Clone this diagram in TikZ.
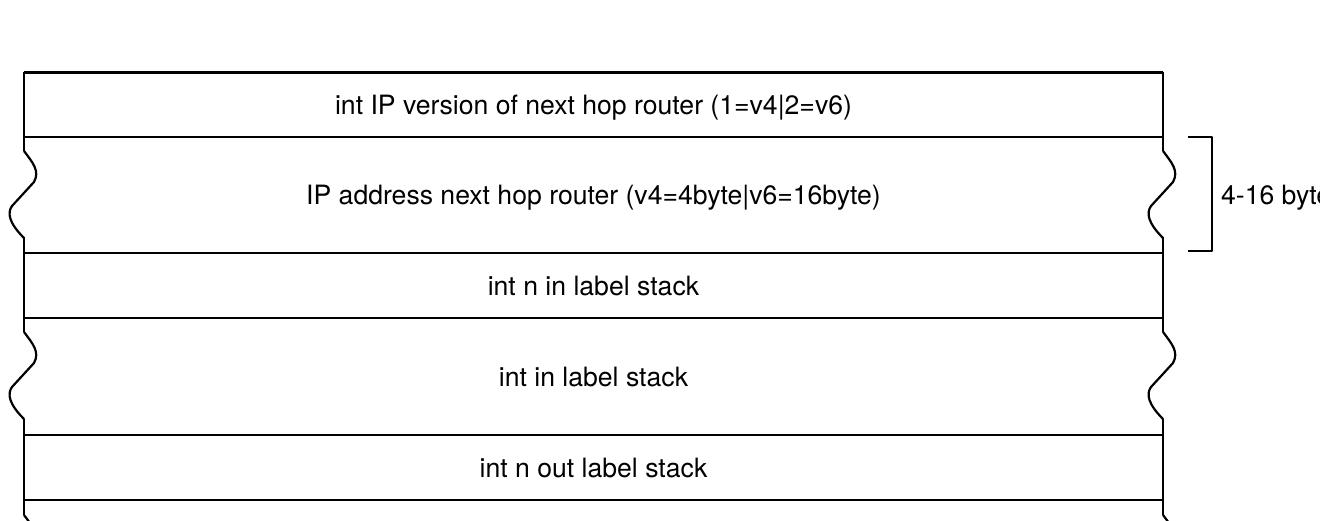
\documentclass[tikz,border=0pt]{standalone}
\usepackage{fontspec}
\setmainfont{TeX Gyre Heros}

\tikzset{
  wavy/.pic={\draw (0,0) .. controls (9,12) and (16,20) .. (10,31)
    -- (-12,55) .. controls (-17,62) and (-15,72) .. (0,87);},
  field/.style={font=\fontsize{26.6}{30}\selectfont, inner sep=0pt,
    text height=19.1pt, text depth=0pt}
}

\begin{document}
\begin{tikzpicture}[x=1pt,y=-1pt,line width=2.2pt,line join=round]
  \useasboundingbox (0,0) rectangle (1320,520);
  \draw (24,72.5) -- (1163,72.5) (24,137) -- (1163,137)
    (24,253) -- (1163,253) (24,318) -- (1163,318)
    (24,435) -- (1163,435) (24,500) -- (1163,500);
  \draw (24,71.5) -- (24,151) (24,237) -- (24,332) (24,419) -- (24,515);
  \draw (1163,71.5) -- (1163,151) (1163,237) -- (1163,332) (1163,419) -- (1163,515);
  \pic at (24,151) {wavy};
  \pic at (24,332) {wavy};
  \pic at (24,515) {wavy};
  \pic at (1163,151) {wavy};
  \pic at (1163,332) {wavy};
  \pic at (1163,515) {wavy};
  \draw (1188,137) -- (1212,137) -- (1212,251) -- (1188,251);

  \node[field] (ipver) at (593.5,105) {int IP version of next hop router (1=v4|2=v6)};
  \node[field] (ipaddr) at (593.5,195) {IP address next hop router (v4=4byte|v6=16byte)};
  \node[field] (ninlbl) at (593.5,285.5) {int n in label stack};
  \node[field] (inlbl) at (593.5,376.5) {int in label stack};
  \node[field] (noutlbl) at (593.5,467.5) {int n out label stack};
  \node[field, anchor=west] (size) at (1220,195) {4-16 byte};
\end{tikzpicture}
\end{document}
